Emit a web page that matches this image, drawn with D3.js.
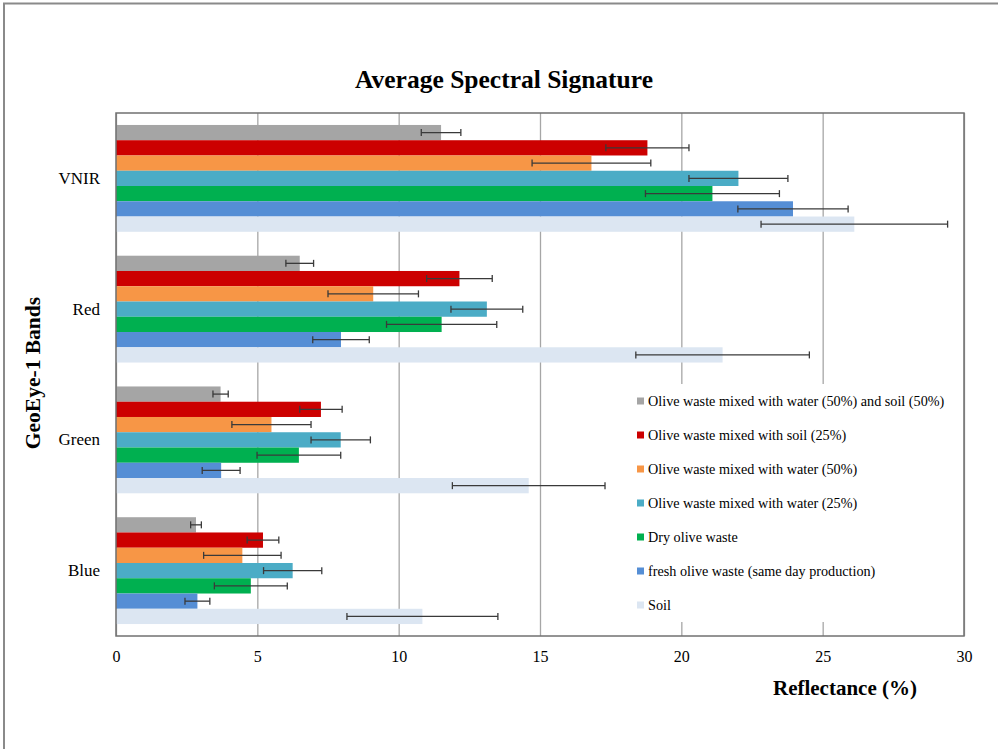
<!DOCTYPE html>
<html>
<head>
<meta charset="utf-8">
<script src="https://cdn.jsdelivr.net/npm/d3@7/dist/d3.min.js"></script>
<style>
  html, body { margin: 0; padding: 0; background: #fff; }
  svg { display: block; }
  text { font-family: "Liberation Serif", "Times New Roman", serif; fill: #000; }
</style>
</head>
<body>
<svg id="chart" width="998" height="749"></svg>
<script>
// ---------------- DATA ----------------
const bands = ["VNIR", "Red", "Green", "Blue"];
const seriesNames = [
  "Olive waste mixed with water (50%) and soil (50%)",
  "Olive waste mixed with soil (25%)",
  "Olive waste mixed with water (50%)",
  "Olive waste mixed with water (25%)",
  "Dry olive waste",
  "fresh olive waste (same day production)",
  "Soil"
];
// mean reflectance per band [VNIR, Red, Green, Blue]
const waterSoil50 = [11.5, 6.5, 3.7, 2.83];
const soil25      = [18.8, 12.15, 7.25, 5.2];
const water50     = [16.82, 9.1, 5.5, 4.47];
const water25     = [22.02, 13.12, 7.95, 6.25];
const dryWaste    = [21.1, 11.52, 6.47, 4.77];
const freshWaste  = [23.95, 7.96, 3.72, 2.88];
const soilOnly    = [26.12, 21.46, 14.6, 10.84];
// error (+/-) per band
const waterSoil50Err = [0.7, 0.49, 0.27, 0.19];
const soil25Err      = [1.47, 1.16, 0.75, 0.56];
const water50Err     = [2.1, 1.6, 1.4, 1.37];
const water25Err     = [1.75, 1.27, 1.05, 1.03];
const dryWasteErr    = [2.37, 1.95, 1.48, 1.29];
const freshWasteErr  = [1.95, 1.0, 0.67, 0.44];
const soilOnlyErr    = [3.3, 3.07, 2.7, 2.67];
const xTicks = [0, 5, 10, 15, 20, 25, 30];

const seriesColors = ["#a5a5a5", "#cc0000", "#f79646", "#4bacc6", "#00b050", "#558ed5", "#dce6f2"];

const means = [waterSoil50, soil25, water50, water25, dryWaste, freshWaste, soilOnly];
const errs  = [waterSoil50Err, soil25Err, water50Err, water25Err, dryWasteErr, freshWasteErr, soilOnlyErr];

// ---------------- LAYOUT ----------------
const SERIF = "Liberation Serif, Times New Roman, serif";
const svg = d3.select("#chart");
const W = 998, H = 749;
const plot = { left: 116, top: 113, right: 964, bottom: 636 };

// outer frame
svg.append("path")
  .attr("d", `M4,${H + 5} L4,3.5 L${W + 5},3.5`)
  .attr("fill", "none").attr("stroke", "#8a8a8a").attr("stroke-width", 2);

const x = d3.scaleLinear().domain([0, 30]).range([plot.left, plot.right]);
const y = d3.scaleBand().domain(bands).range([plot.top, plot.bottom])
  .paddingInner(0.183).paddingOuter(0.0915);
const ySub = d3.scaleBand().domain(seriesNames).range([0, y.bandwidth()]);

// gridlines
const grid = svg.append("g")
  .attr("transform", `translate(0,${plot.bottom})`)
  .call(d3.axisBottom(x).tickValues(xTicks).tickSize(-(plot.bottom - plot.top)).tickFormat(""));
grid.select(".domain").remove();
grid.selectAll("line").attr("stroke", "#a6a6a6").attr("stroke-width", 1.3);

// bars
const rows = [];
seriesNames.forEach((s, si) => {
  bands.forEach((b, bi) => {
    rows.push({ series: s, si: si, band: b, v: means[si][bi], e: errs[si][bi] });
  });
});

svg.append("g").selectAll("rect").data(rows).join("rect")
  .attr("x", x(0))
  .attr("y", d => y(d.band) + ySub(d.series))
  .attr("width", d => x(d.v) - x(0))
  .attr("height", ySub.bandwidth())
  .attr("fill", d => seriesColors[d.si]);

// error bars
const eg = svg.append("g").attr("stroke", "#3a3a3a").attr("stroke-width", 1.3);
rows.forEach(d => {
  const cy = y(d.band) + ySub(d.series) + ySub.bandwidth() / 2;
  const x1 = x(d.v - d.e), x2 = x(d.v + d.e);
  eg.append("line").attr("x1", x1).attr("x2", x2).attr("y1", cy).attr("y2", cy);
  eg.append("line").attr("x1", x1).attr("x2", x1).attr("y1", cy - 3.5).attr("y2", cy + 3.5);
  eg.append("line").attr("x1", x2).attr("x2", x2).attr("y1", cy - 3.5).attr("y2", cy + 3.5);
});

// plot border
svg.append("rect")
  .attr("x", plot.left).attr("y", plot.top)
  .attr("width", plot.right - plot.left).attr("height", plot.bottom - plot.top)
  .attr("fill", "none").attr("stroke", "#707070").attr("stroke-width", 1.5);

// x axis labels
const xa = svg.append("g")
  .attr("transform", `translate(0,${plot.bottom})`)
  .call(d3.axisBottom(x).tickValues(xTicks).tickSize(0).tickPadding(15))
  .attr("font-family", SERIF).attr("font-size", 16);
xa.select(".domain").remove();
xa.selectAll("text").attr("fill", "#000");

// y axis labels
const ya = svg.append("g")
  .attr("transform", `translate(${plot.left},0)`)
  .call(d3.axisLeft(y).tickSize(0).tickPadding(16))
  .attr("font-family", SERIF).attr("font-size", 17);
ya.select(".domain").remove();
ya.selectAll("text").attr("fill", "#000");

// title
svg.append("text")
  .attr("x", 504).attr("y", 88)
  .attr("text-anchor", "middle")
  .style("font-size", "25.5px").style("font-weight", "bold")
  .text("Average Spectral Signature");

// axis titles
svg.append("text")
  .attr("x", 845).attr("y", 695)
  .attr("text-anchor", "middle")
  .style("font-size", "21px").style("font-weight", "bold")
  .text("Reflectance (%)");

svg.append("text")
  .attr("transform", "translate(40,373) rotate(-90)")
  .attr("text-anchor", "middle")
  .style("font-size", "21.5px").style("font-weight", "bold")
  .text("GeoEye-1 Bands");

// legend
const lg = svg.append("g");
lg.append("rect").attr("x", 622).attr("y", 384).attr("width", 340).attr("height", 238).attr("fill", "#fff");
const legendRow = d3.scaleBand().domain(seriesNames).range([384, 622]);
seriesNames.forEach((s, i) => {
  const cy = legendRow(s) + legendRow.bandwidth() / 2;
  lg.append("rect").attr("x", 637).attr("y", cy - 3.5).attr("width", 7).attr("height", 7).attr("fill", seriesColors[i]);
  lg.append("text").attr("x", 648).attr("y", cy).attr("dy", "0.35em")
    .style("font-size", "14.2px").text(s);
});
</script>
</body>
</html>
